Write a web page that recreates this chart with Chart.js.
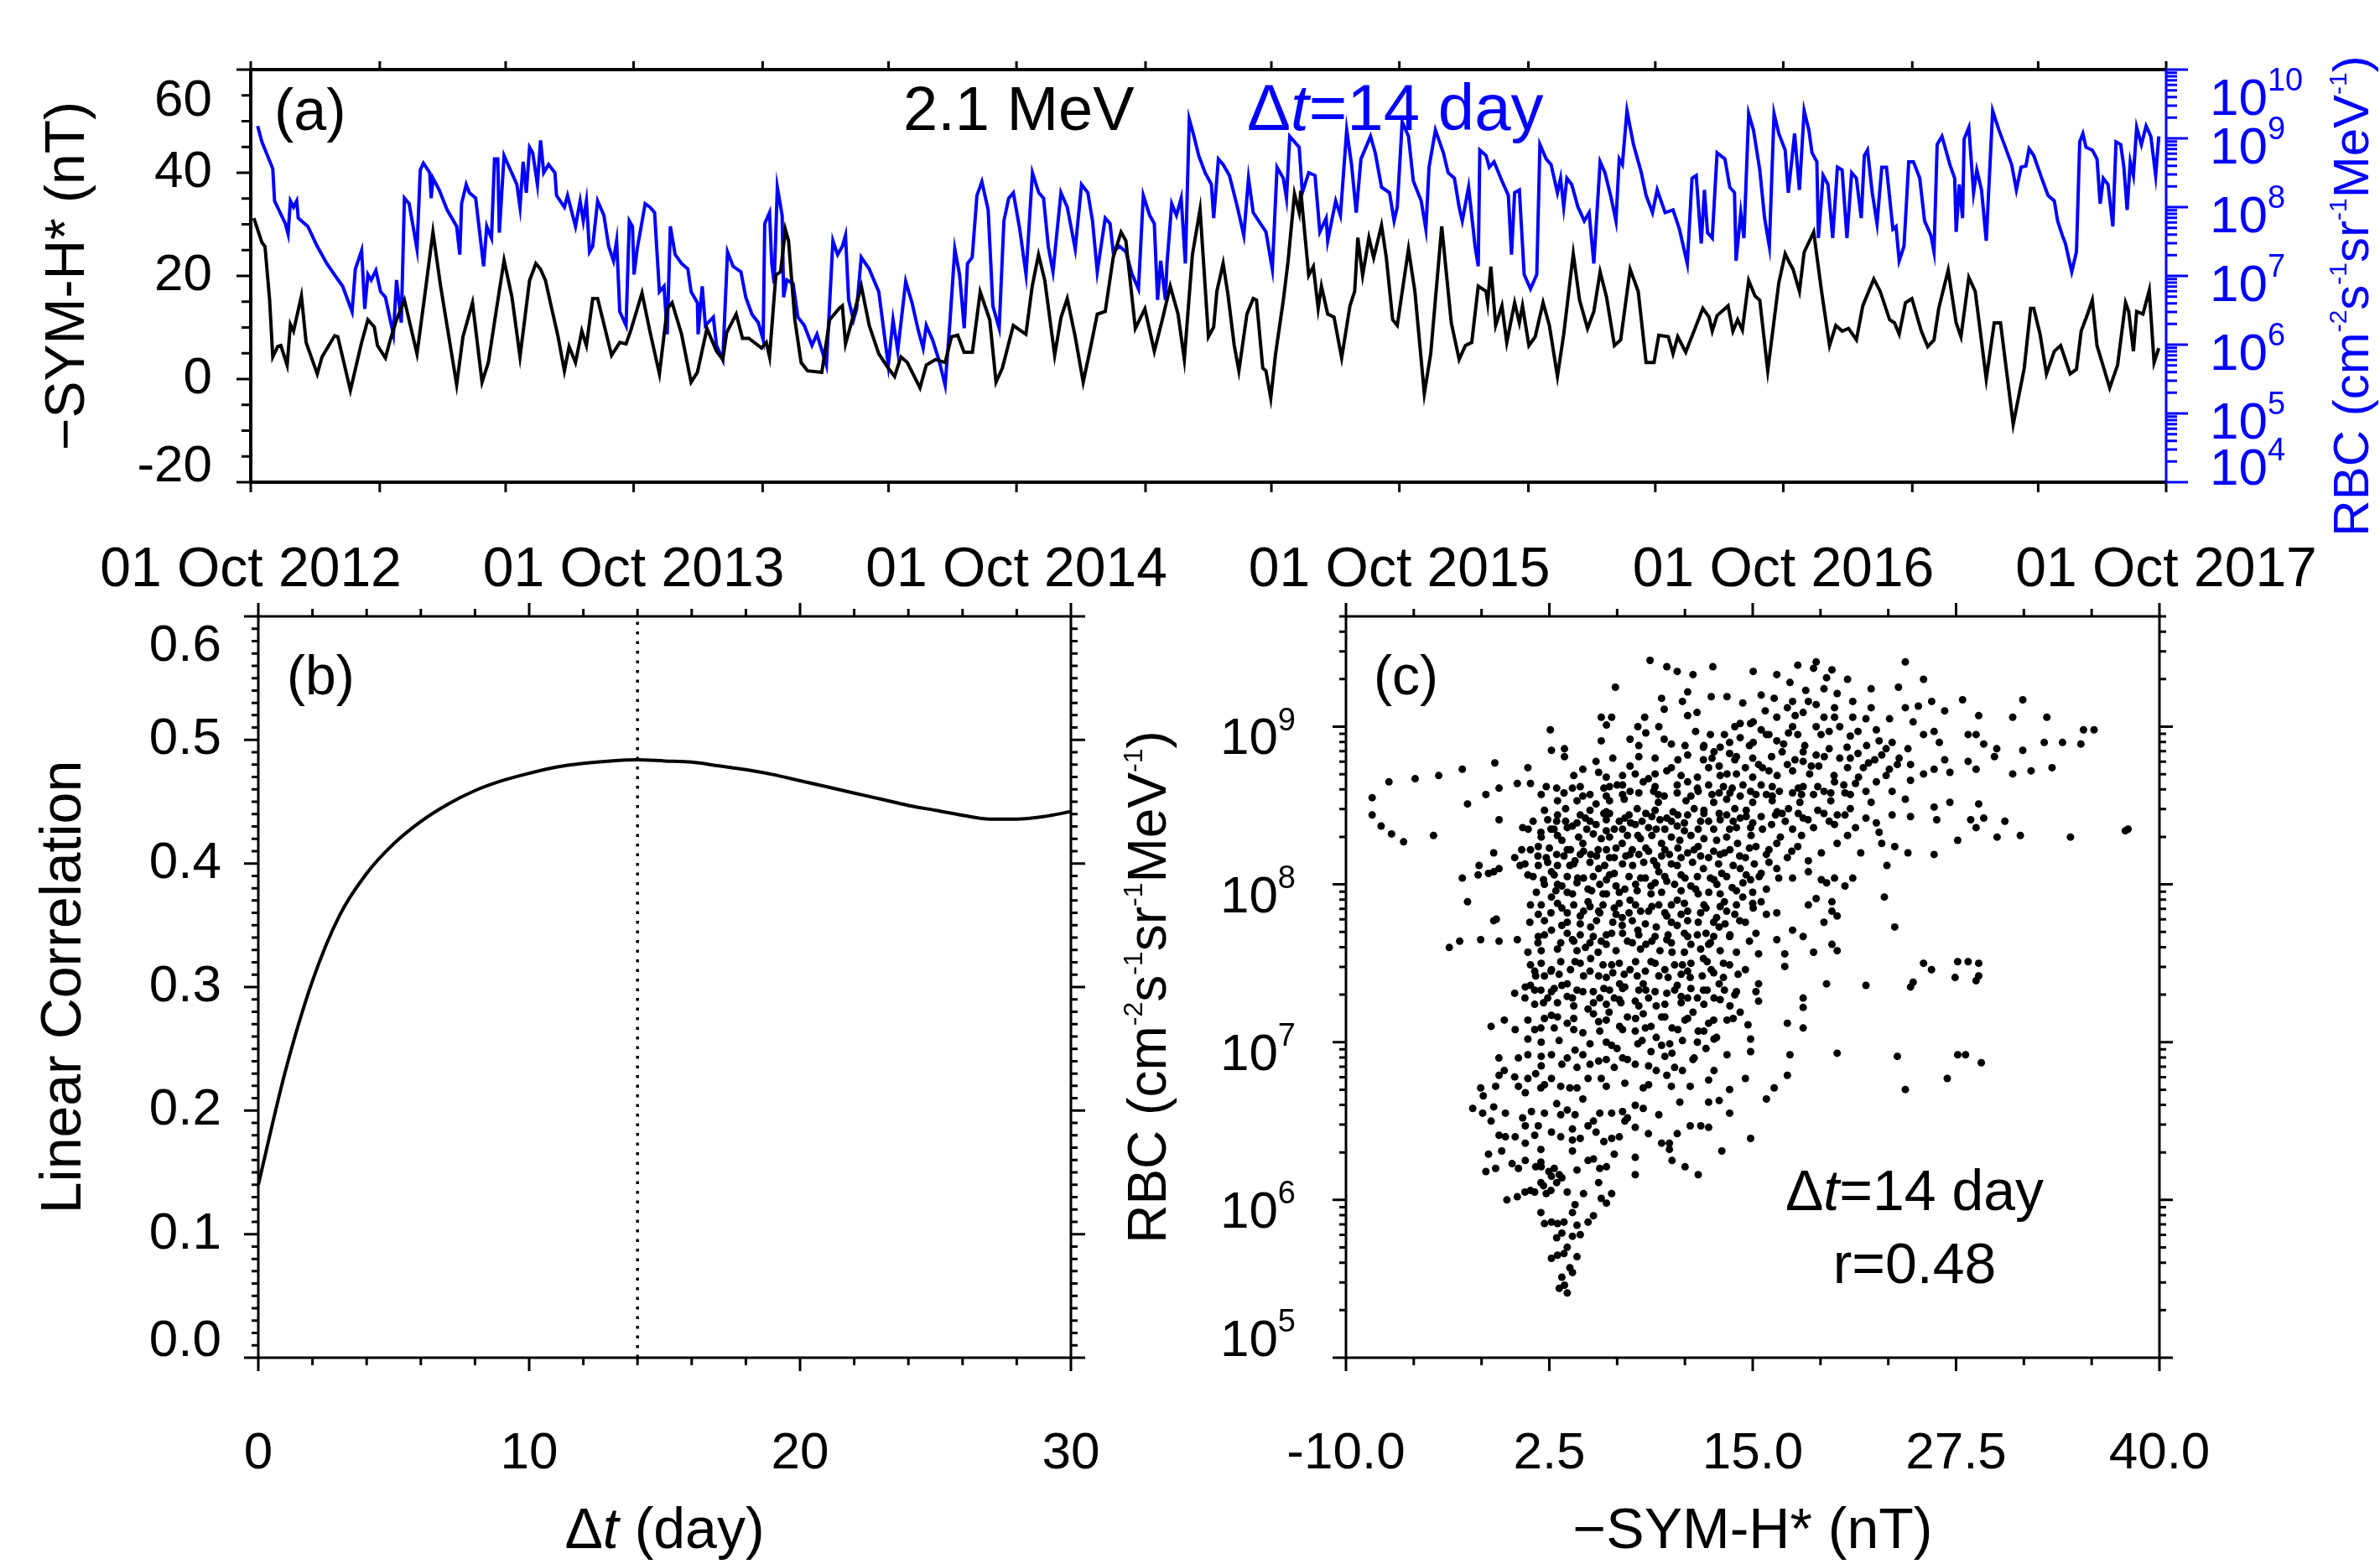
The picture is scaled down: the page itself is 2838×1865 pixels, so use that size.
<!DOCTYPE html>
<html>
<head>
<meta charset="utf-8">
<script src="https://cdn.jsdelivr.net/npm/chart.js@4.4.1/dist/chart.umd.min.js"></script>
<style>
  html, body { margin: 0; padding: 0; background: #fff; }
  #wrap { position: relative; width: 2838px; height: 1865px; overflow: hidden; background: #fff; }
  #wrap canvas { position: absolute; left: 0; top: 0; }
</style>
</head>
<body>
<div id="wrap">
  <canvas id="pa" width="2838" height="1865"></canvas>
  <canvas id="pb" width="2838" height="1865"></canvas>
  <canvas id="pc" width="2838" height="1865"></canvas>
</div>
<script>
const W = 2838, H = 1865;
const FAM = '"Liberation Sans", Arial, Helvetica, sans-serif';
const BLUE = '#0000ff';

// ---- panel (a): days since 01 Oct 2012 ----
// -SYM-H* (nT)
const symh = [
  [3,31.2],[10.6,26.5],[13.6,25.7],[18,15.3],[21,4.3],[25.7,6.3],[28.7,6.5],[34.7,2.7],[37.8,10.6],[40.8,9.3],
  [48.3,16.1],[52.8,7.1],[63.4,1.0],[68,4.3],[80,8.4],[83,8.2],[95,-2.2],[105.7,7.1],[111.7,11.5],[117.8,10.1],
  [120.8,6.5],[128.4,4.1],[133,7.6],[139,11.5],[146.5,15.3],[158.5,4.9],[166,16.4],[173.7,28.5],[181,18],[196.3,-1.1],
  [202.3,8.2],[211.4,14.8],[220.5,-0.6],[226.5,3.2],[234,13.2],[241.5,23.0],[249,15.9],[256.7,4.3],[265.8,19.1],[271.8,22.4],
  [276.3,21.3],[281,19.1],[287,13.6],[293,8.2],[299,1.6],[303.5,6.3],[309.6,3.2],[315.6,9.3],[320,6.5],[326,15.6],
  [330.7,15.6],[344,4.6],[351.8,7.1],[357.8,6.8],[362.4,9.5],[373,16.7],[380.5,9.3],[389.6,1.0],[397,13.6],[401.7,14.8],
  [410.7,8.7],[419.8,-0.6],[425.8,1.3],[434.9,9.8],[444,5.4],[450,3.8],
  [453.7,9.0],[462.8,12.6],[468.8,7.9],[474.9,7.9],[487,6.0],[491.5,7.1],[494.6,4.3],[500.6,20.2],[505.1,20.8],[509.7,29.0],
  [512.7,26.8],[518.7,11.5],[524.7,3.2],[530.8,1.6],[544.4,1.3],[551.9,11.5],[561,13.7],[564,14.2],[567,6.8],[571.5,10.1],
  [582.1,18.0],[589.6,10.4],[598.7,4.9],[607.8,2.1],[613.8,0.5],[619.8,4.3],[625.9,3.2],[638,-1.7],[644,2.7],[653,3.8],
  [662,3.2],[668,8.2],[674,8.5],[680,5.2],[688,5.2],[695.4,16.9],[704.5,11.5],[710.5,-0.6],[716.5,2.1],[727,10.4],
  [734.6,9.3],[739,8.7],[745,18.0],[751,24.1],[757,19.1],[766.4,4.6],[772.4,11.9],[778.4,15.6],[786,8.2],[793.6,-0.6],
  [801,6.5],[807,12.6],[814.6,13.1],[822.2,23.6],[829.7,28.5],[834.3,26.8],[843.3,9.8],[852.4,13.6],[861.4,5.4],[869,11.5],
  [876.6,18.0],[884,12.6],[890,3.8],[897.7,24.1],[905,32.9],[913,8.2],
  [918,10.1],[921,17.0],[927,22.4],[931.6,16.4],[937.6,6.5],[942,1.6],[949.7,12.6],[955.7,15.6],[958.8,15.3],[964.8,2.1],
  [967.8,1.6],[972.4,-3.7],[977,4.9],[984.4,15.3],[989,23.0],[995,35.9],[999.5,32.3],[1001,36.5],[1008.6,20.1],[1013,21.8],
  [1017.6,13.7],[1020.7,18.0],[1026.7,12.6],[1032.7,12.0],[1040,4.1],[1047.9,14.2],[1052.4,17.0],[1055.4,27.4],[1060,20.1],[1066,27.4],
  [1070.5,23.5],[1078,29.8],[1082.6,23.5],[1088.6,11.5],[1093,10.4],[1103.7,25.2],[1109.8,17.0],[1118.8,-2.8],[1124.9,4.9],[1135.4,29.6],
  [1144.5,10.9],[1152,3.8],[1158,6.5],[1164,7.1],[1170.2,18.0],[1177.7,17.0],[1179.2,14.8],[1182.2,21.8],[1186.8,10.4],[1192.8,14.2],
  [1197.4,7.1],[1204.9,14.8],[1209.4,10.9],[1212.4,14.2],[1218.5,6.5],[1224.5,8.2],[1232,14.8],[1238,10.4],[1245.7,0.5],[1251.7,8.7],
  [1260.8,24.3],[1266.8,15.3],[1274.4,9.8],[1280.4,13.1],[1286.4,20.8],[1292.5,15.9],[1300,6.5],[1306,7.6],[1315,21.3],[1322.7,17.0],
  [1330.2,3.2],[1337.8,3.2],[1342.3,8.5],[1351.4,8.2],[1355.9,4.9],[1360.4,8.2],[1368,5.2],[1378,10.4],
  [1384.3,13.7],[1390.3,12.0],[1393.3,9.3],[1397.9,12.3],[1408.4,14.2],[1413,9.3],[1417.5,11.5],[1422,9.5],[1428,19.1],[1434.1,16.1],
  [1438.6,15.3],[1446.2,1.6],[1456.7,18.6],[1462.8,24.3],[1467.3,22.4],[1470.3,21.3],[1476.4,17.0],[1480.9,24.6],[1490,28.5],[1497.5,17.0],
  [1505.1,6.5],[1511.1,10.4],[1517.1,9.3],[1523.2,9.8],[1530.7,7.6],[1536.8,14.2],[1547.3,19.4],[1553.4,17.0],[1562.4,11.5],[1567,10.9],
  [1571.5,8.7],[1577.5,14.8],[1583.6,15.6],[1592.6,9.3],[1598.7,6.3],[1604.7,7.6],[1609.2,13.7],[1618.2,21.1],[1625.8,10.9],[1630.4,8.2],
  [1637.9,19.7],[1644,17.0],[1654.5,0],[1662.1,10.9],[1668.1,10.9],[1680.2,-8.8],[1690.7,2.1],[1696.8,13.7],[1699.8,13.7],[1705.8,8.7],
  [1711.9,1.0],[1719.4,5.4],[1725.4,6.5],[1734.5,1.0],[1740.5,1.9],[1745,9.3],[1751.1,12.6],[1755.6,15.3],[1760.1,6.5],[1772.2,-1.7],
  [1779.7,2.7],[1787.3,14.8],[1790.3,13.1],[1794.8,5.4],[1797.9,13.1],[1803.9,12.6],[1809.9,17.2],[1814.5,3.2],[1819,6.0]
];

// log10 RBC (cm^-2 s^-1 sr^-1 MeV^-1), shifted by 14 days
const rbcLog = [
  [6.6,9.18],[10.6,8.95],[21,8.56],[22.7,8.09],[33,7.76],[35.6,7.61],[37.8,8.09],[40.8,8.0],[43.8,8.09],[45.3,7.84],
  [54.4,7.72],[63.4,7.43],[72.5,7.18],[81.5,6.98],[87.6,6.85],[96.6,6.48],[99.7,7.10],[105.7,7.37],[108.7,6.52],[111.7,7.02],
  [114.8,6.94],[119.3,7.08],[123.8,6.77],[128.4,6.69],[133,6.36],[136,6.15],[139,6.94],[143.5,6.32],[146.5,8.13],[151,8.05],
  [158.5,7.39],[161.6,8.54],[164.6,8.64],[170.6,8.50],[172,8.13],[173.7,8.42],[179.7,8.25],[187.2,7.96],[196.3,7.72],[199.3,7.31],
  [201,8.05],[205.4,8.33],[208.4,8.21],[214.4,8.13],[222,7.14],[225,7.72],[229.5,7.55],[232.4,8.70],[235.5,8.70],[237,7.63],
  [241.5,8.75],[247.6,8.54],[253.7,8.33],[256.7,8.0],[259.7,8.66],[262.7,8.21],[265.8,8.87],[268.8,8.79],[273.3,8.33],[276.3,8.97],
  [279.3,8.50],[283.9,8.62],[290,8.50],[291.5,8.17],[299,8.0],[302,8.17],[309.6,7.72],[314,8.09],[317,7.80],[320,8.09],
  [323,7.35],[326,7.43],[330.7,8.09],[336.7,7.88],[341.2,7.43],[345.8,7.22],[348.8,7.51],[351.8,6.48],[357.8,6.28],[360.9,7.80],
  [363.9,7.72],[365.4,7.02],[368.4,7.39],[376,8.05],[380.5,8.0],[385,7.92],[389.6,6.77],[394,6.85],[397,6.15],[400,7.72],
  [404.6,7.31],[410.7,7.18],[416.7,7.10],[419.8,6.77],[425.8,6.61],[426.5,6.15],[430.4,6.85],[433.4,6.28],[441,6.40],[444,5.99],
  [450,5.78],[454.5,7.35],
  [459.8,7.14],[467.3,7.06],[471.9,6.69],[477.9,6.44],[483.9,6.32],[488.5,6.07],[490,7.76],[494.6,7.92],[496.7,7.18],[499,6.89],
  [502,8.29],[506.6,7.88],[508,6.69],[511,6.94],[517,6.89],[521.6,6.40],[527.7,6.28],[535,5.99],[539.8,6.15],[548.8,5.70],
  [555,7.51],[559.5,7.31],[564,7.43],[567,7.59],[570,6.65],[574.6,6.36],[577.6,6.52],[582,7.27],[589.6,7.10],[598.7,6.77],
  [607.8,5.70],[612.3,6.36],[616.8,5.91],[624.4,6.92],[630.4,6.61],[636.5,6.20],[641,5.95],[644,6.28],[650,6.07],[656,5.78],
  [662,5.41],[666.7,6.36],[671.2,7.39],[675.7,7.02],[680.2,6.24],[683.3,7.18],[687.8,7.27],[692.3,8.17],[697,8.37],[703,7.96],
  [707.5,6.56],[713.5,6.24],[718,7.80],[722.6,8.13],[727,8.21],[733.1,7.68],[739.1,7.02],[745.2,8.50],[751.2,8.21],[755.8,8.13],
  [760.3,7.43],[764.8,7.06],[772.4,8.21],[778.4,8.0],[786,7.39],[792,8.33],[798,8.21],[802.5,7.80],[807,7.06],[814.6,7.84],
  [819.2,7.76],[822.2,7.35],[828.2,7.43],[834.3,7.35],[840.3,7.02],[846.3,6.81],[850.9,8.17],[857,7.88],[861.4,7.76],[864.5,6.65],
  [867.5,7.22],[872,6.65],[873.5,7.18],[878,8.05],[882.5,7.88],[887,8.13],[891,7.18],[894.7,9.28],[899.2,9.03],[903.7,8.75],
  [909.8,8.50],[915.8,8.33],
  [918,7.84],[922.5,8.70],[927,8.62],[933,8.46],[940.6,8.0],[946.7,7.59],[951.2,8.42],[955.7,7.92],[967.8,7.64],[973.9,7.10],
  [978.4,8.58],[984.4,8.42],[987.4,8.13],[990.5,9.03],[999.5,8.87],[1002.5,8.21],[1008.6,8.50],[1014.6,8.46],[1019.2,7.64],[1025.2,7.84],
  [1026.7,7.51],[1034.3,8.09],[1038.8,7.88],[1044.8,9.12],[1049.4,8.62],[1053.9,7.92],[1058.4,8.70],[1067.5,9.03],[1072,8.79],[1078,8.29],
  [1085.6,8.21],[1090,7.80],[1093,8.0],[1097.7,9.24],[1103.7,9.03],[1108.3,8.38],[1115.8,8.09],[1120.3,7.68],[1123.3,8.58],[1129.4,9.12],
  [1137,8.79],[1141.5,8.50],[1147.5,8.42],[1152,8.0],[1155,7.80],[1161,8.29],[1167.2,7.43],[1170.2,7.14],[1171.7,8.83],[1177.7,8.75],
  [1180.7,8.58],[1185.3,8.66],[1192.8,8.38],[1198.9,8.17],[1201.9,7.31],[1204.9,8.21],[1209.4,8.25],[1214,7.02],[1220,6.81],[1226,7.02],
  [1229,8.91],[1235,8.70],[1239.6,8.62],[1245.7,8.21],[1248.7,8.42],[1251.7,8.0],[1254.7,8.42],[1259.3,8.33],[1265.3,8.0],[1271.3,7.80],
  [1275.9,7.92],[1280.4,7.18],[1286.4,8.66],[1291,8.50],[1297,8.13],[1301.5,7.80],[1304.6,8.70],[1307.6,8.62],[1312,9.40],[1318.2,8.91],
  [1325.7,8.50],[1330.2,8.17],[1336.3,7.92],[1340.8,8.25],[1348.4,7.92],[1355.9,7.96],[1362,7.68],[1369.5,7.18],[1374,8.42],[1378,8.46],
  [1382.8,7.47],[1385.8,8.25],[1388.8,7.63],[1393.3,7.55],[1397.9,8.79],[1405.4,8.70],[1410,8.29],[1414.5,8.21],[1416,7.22],[1420.5,7.92],
  [1423.5,7.55],[1428,9.36],[1432.6,9.12],[1438.6,8.54],[1443.2,7.84],[1447.7,7.43],[1452.2,9.36],[1456.7,9.07],[1462.8,8.83],[1465.8,8.21],
  [1471.8,9.07],[1476.4,8.25],[1480.9,9.40],[1485.4,9.12],[1488.4,8.79],[1493,8.66],[1494.5,7.55],[1499,8.46],[1503.6,8.33],[1508.1,7.55],
  [1512.6,8.58],[1517.1,8.54],[1521.7,7.55],[1526.2,8.50],[1530.7,8.42],[1535.3,7.84],[1538.3,8.75],[1541.3,8.83],[1545.8,8.21],[1550.4,7.76],
  [1554.9,8.58],[1559.4,8.58],[1565.5,7.68],[1568.5,7.72],[1571.5,7.22],[1576.1,7.43],[1580.6,8.66],[1585.1,8.66],[1591.1,8.42],[1595.7,7.80],
  [1601.7,7.59],[1604.7,7.35],[1607.7,8.91],[1612.3,9.03],[1619.8,8.62],[1624.4,8.42],[1625.8,7.64],[1628.8,8.33],[1631.9,7.84],[1633.4,8.99],
  [1637.9,9.16],[1642.4,8.21],[1645.5,8.54],[1650,8.25],[1654.5,7.51],[1660.6,9.40],[1666.6,9.12],[1672.7,8.87],[1678.7,8.62],[1683.2,8.25],
  [1687.7,8.58],[1692.3,8.60],[1695.3,8.85],[1699.8,8.75],[1707.4,8.42],[1713.4,8.17],[1719.4,8.09],[1722.5,7.80],[1727,7.59],[1730,7.47],
  [1736,7.06],[1740.5,7.35],[1743.6,8.95],[1746.6,9.07],[1749.6,8.87],[1755.6,8.83],[1760.1,8.70],[1763.1,8.05],[1766.1,8.42],[1770.6,8.33],
  [1775.2,7.72],[1778.2,8.95],[1782.7,8.91],[1785.7,8.58],[1788.8,7.96],[1791.8,8.66],[1794.8,8.46],[1797.9,9.16],[1802.4,8.91],[1806.9,9.18],
  [1811.4,9.03],[1816,8.46],[1819,9.03]
];

const dateTickYears = [2012, 2013, 2014, 2015, 2016, 2017];
const symhTicks = [-20, 0, 20, 40, 60];
const rbcDecadesA = [4, 5, 6, 7, 8, 9, 10];

// ---- panel (b) ----
const lagDays = [0,1,2,3,4,5,6,7,8,9,10,11,12,13,14,15,16,17,18,19,20,21,22,23,24,25,26,27,28,29,30];
const linCorr = [0.140,0.232,0.305,0.358,0.392,0.416,0.434,0.448,0.459,0.467,0.473,0.478,0.481,0.483,0.484,0.483,
                 0.482,0.479,0.476,0.472,0.467,0.462,0.457,0.452,0.447,0.443,0.439,0.436,0.436,0.438,0.442];
const bestLag = 14;
const corrTicks = [0, 0.1, 0.2, 0.3, 0.4, 0.5, 0.6];
const lagTicks = [0, 10, 20, 30];

// ---- panel (c): [-SYM-H* (nT), log10 RBC] ----
const scatterPts = [
  [8.69,9.42],[9.72,9.38],[10.36,9.35],[11.33,9.33],[12.55,9.38],[15.03,9.35],[16.48,9.33],[17.77,9.39],[18.9,9.41],[18.74,9.37],
  [19.87,9.36],[19.54,9.31],[20.83,9.30],[24.38,9.41],[25.5,9.30],[6.56,9.25],[17.29,9.28],[18.26,9.23],[19.38,9.24],[20.19,9.21],
  [22.28,9.24],[23.96,9.25],[11.0,9.22],
  [9.4,9.18],[10.68,9.16],[11.0,9.07],[12.45,9.19],[13.42,9.19],[14.39,9.15],[15.52,9.20],[16.32,9.18],[17.45,9.16],[17.13,9.12],
  [18.42,9.16],[18.9,9.14],[18.1,9.09],[20.03,9.12],[21.15,9.16],[22.28,9.12],[24.38,9.12],[25.18,9.13],[26.0,9.16],[26.8,9.10],
  [27.9,9.17],[31.6,9.17],[5.69,9.06],[6.33,9.06],[8.36,9.06],[9.56,9.11],[11.58,9.09],[14.23,9.02],[15.03,9.03],[15.77,9.10],
  [16.48,9.06],[17.61,9.07],[19.38,9.06],[20.03,9.06],[21.15,9.06],[21.96,9.05],[23.41,9.05],[24.86,9.03],[28.89,9.07],[30.98,9.06],[33.08,9.06],
  [2.56,8.98],[6.01,9.01],[7.94,9.0],[9.23,9.0],[8.43,8.96],[9.56,8.92],[11.49,8.97],[13.26,8.95],[13.9,9.0],[14.87,9.02],
  [15.52,8.98],[15.84,8.95],[13.58,8.90],[14.23,8.93],[15.03,8.90],[16.48,8.91],[17.45,9.0],[17.77,8.95],[18.9,9.0],[19.7,8.97],
  [20.35,9.0],[21.47,8.97],[22.6,8.98],[22.77,8.91],[23.57,8.90],[24.54,8.86],[25.5,8.95],[26.15,8.97],[26.47,8.90],[28.24,8.95],
  [28.73,8.95],[29.2,8.89],[30.0,8.86],[31.6,8.85],[32.92,8.90],[34.04,8.90],[35.17,8.89],[35.33,8.98],[35.98,8.98],[5.69,8.91],
  [7.46,8.92],[2.63,8.85],[3.43,8.86],[10.84,8.88],[11.97,8.87],[12.62,8.84],
  [-2.85,8.73],[-4.3,8.69],[-5.75,8.67],[-7.36,8.65],[-0.85,8.77],[1.18,8.74],[3.43,8.81],[4.56,8.73],[5.37,8.78],[5.53,8.71],
  [7.46,8.75],[7.78,8.70],[8.59,8.67],[9.72,8.72],[11.0,8.82],[11.97,8.79],[12.29,8.74],[12.94,8.75],[13.58,8.83],[13.9,8.79],
  [14.55,8.74],[13.42,8.70],[15.36,8.76],[16.0,8.72],[16.16,8.81],[16.81,8.84],[17.13,8.76],[17.45,8.72],[18.1,8.78],[18.1,8.84],
  [18.9,8.82],[19.06,8.75],[19.7,8.86],[20.35,8.80],[20.83,8.74],[21.47,8.83],[22.12,8.77],[22.93,8.82],[23.89,8.76],[24.7,8.76],
  [24.7,8.66],[25.5,8.70],[26.15,8.73],[26.8,8.79],[27.12,8.71],[28.24,8.78],[28.73,8.73],[29.86,8.81],[30.98,8.70],[32.11,8.72],[33.4,8.74],
  [-8.39,8.55],[-0.59,8.61],[0.53,8.64],[1.34,8.64],[2.31,8.62],[2.95,8.61],[3.92,8.61],[-1.4,8.57],[-2.53,8.51],[4.56,8.56],
  [5.37,8.51],[5.85,8.61],[6.66,8.63],[7.46,8.59],[8.27,8.65],[8.91,8.59],[9.56,8.56],[10.36,8.63],[10.36,8.58],[11.0,8.65],
  [11.65,8.59],[12.29,8.63],[12.94,8.58],[13.74,8.61],[14.23,8.56],[14.87,8.59],[15.52,8.63],[15.84,8.57],[16.64,8.59],[17.45,8.58],
  [18.1,8.62],[18.74,8.57],[19.38,8.59],[20.03,8.65],[20.67,8.58],[21.32,8.64],[21.96,8.59],[22.28,8.52],[23.57,8.59],[24.38,8.54],
  [22.6,8.65],[26.15,8.49],[27.12,8.52],[28.89,8.51],
  [-8.39,8.44],[-7.84,8.37],[-7.2,8.32],[-6.46,8.27],[-4.62,8.31],[-0.59,8.41],[0.86,8.36],[1.98,8.33],[2.79,8.35],[2.95,8.40],
  [3.92,8.37],[4.72,8.42],[5.37,8.38],[5.85,8.45],[6.49,8.35],[7.14,8.42],[7.78,8.38],[8.43,8.45],[9.07,8.35],[9.72,8.42],
  [10.36,8.37],[11.0,8.44],[11.65,8.35],[12.29,8.40],[12.94,8.45],[13.58,8.35],[14.23,8.42],[14.87,8.36],[15.52,8.43],[16.16,8.38],
  [16.81,8.45],[17.45,8.35],[18.1,8.42],[18.74,8.36],[19.38,8.45],[20.03,8.38],[20.67,8.44],[21.32,8.36],[21.96,8.42],[22.6,8.39],
  [23.57,8.44],[22.77,8.33],[24.7,8.43],[26.31,8.41],[28.4,8.41],[29.2,8.42],[28.73,8.36],[30.5,8.40],[27.6,8.28],[30.02,8.30],
  [31.45,8.31],[34.53,8.30],[37.9,8.34],[38.07,8.35],
  [-2.85,8.04],[-1.82,8.12],[-0.92,8.20],[-0.92,8.08],[0.37,8.17],[1.34,8.22],[1.82,8.24],[2.31,8.17],[2.95,8.19],[3.27,8.28],
  [3.6,8.22],[4.08,8.15],[4.56,8.26],[5.04,8.19],[5.69,8.29],[6.01,8.22],[6.49,8.17],[6.98,8.26],[7.46,8.19],[7.94,8.31],
  [8.43,8.23],[8.91,8.15],[9.4,8.26],[9.88,8.19],[10.52,8.28],[11.0,8.20],[11.65,8.24],[12.29,8.17],[12.78,8.28],[13.26,8.20],
  [14.07,8.26],[14.55,8.17],[15.2,8.24],[15.84,8.19],[16.48,8.26],[17.13,8.17],[17.77,8.24],[18.42,8.15],[19.22,8.20],[20.19,8.26],
  [20.83,8.31],[21.64,8.20],[22.93,8.26],[23.73,8.24],[24.54,8.20],[26.15,8.19],[23.25,8.12],
  [-1.88,8.06],[-1.24,8.07],[-0.59,8.10],[0.7,8.12],[1.18,8.06],[1.82,8.12],[2.14,8.03],[2.63,8.08],[3.27,7.99],[3.76,8.12],
  [4.24,8.04],[4.88,7.97],[5.53,8.10],[6.01,8.03],[6.49,8.07],[7.14,7.97],[7.62,8.12],[8.11,8.04],[8.75,7.99],[9.23,8.08],
  [9.72,8.02],[10.36,8.12],[10.84,8.04],[11.49,7.97],[11.97,8.10],[12.62,8.03],[13.1,8.07],[13.74,7.98],[14.23,8.10],[14.87,8.03],
  [15.52,8.07],[15.84,7.97],[16.48,8.10],[17.45,8.04],[18.42,8.08],[19.54,8.01],[20.03,8.04],[20.67,7.99],[21.15,8.04],[19.22,8.03],[23.09,7.92],
  [-2.53,7.89],[-0.76,7.78],[1.34,7.87],[1.82,7.81],[2.63,7.92],[3.27,7.85],[3.92,7.94],[4.4,7.80],[4.88,7.89],[5.53,7.83],
  [6.01,7.94],[6.49,7.85],[6.98,7.79],[7.46,7.90],[8.11,7.83],[8.75,7.94],[9.23,7.87],[9.72,7.80],[10.36,7.90],[11.0,7.83],
  [11.65,7.94],[12.13,7.85],[12.78,7.79],[13.26,7.89],[13.9,7.81],[14.39,7.92],[15.03,7.85],[15.52,7.89],[15.84,7.81],[16.48,7.82],
  [18.42,7.87],[18.9,7.91],[19.87,7.89],[19.87,7.83],[20.19,7.80],
  [-3.65,7.60],[-3.01,7.64],[-1.72,7.65],[-0.92,7.77],[-0.59,7.64],[0.53,7.65],[1.82,7.67],[2.63,7.71],[3.27,7.74],[3.92,7.65],
  [4.72,7.60],[5.04,7.73],[5.69,7.64],[6.33,7.69],[6.98,7.74],[7.3,7.64],[7.94,7.71],[8.43,7.62],[9.07,7.73],[9.72,7.65],
  [10.36,7.74],[11.0,7.67],[11.65,7.76],[12.13,7.69],[12.29,7.62],[12.94,7.73],[13.58,7.67],[14.55,7.76],[15.2,7.69],[16.48,7.65],
  [17.45,7.71],[18.1,7.67],[18.74,7.57],[19.38,7.76],[19.87,7.62],[20.19,7.58],[23.73,7.73],
  [1.18,7.57],[1.34,7.49],[1.66,7.42],[1.02,7.35],[2.63,7.46],[3.6,7.37],[4.08,7.51],[5.04,7.53],[5.53,7.42],[6.33,7.49],
  [6.82,7.37],[7.46,7.46],[8.27,7.37],[8.75,7.51],[9.23,7.42],[10.04,7.57],[10.68,7.49],[11.16,7.41],[11.97,7.53],[12.45,7.46],
  [12.94,7.37],[13.58,7.49],[14.55,7.46],[15.36,7.56],[15.36,7.37],[16.97,7.56],[16.97,7.48],[25.5,7.50],[25.99,7.46],[27.6,7.51],
  [28.24,7.51],[28.89,7.50],[28.89,7.42],[27.44,7.41],[28.73,7.39],[19.54,7.37],[21.96,7.36],[24.86,7.38],
  [0.37,7.31],[1.34,7.36],[1.98,7.33],[2.63,7.32],[3.27,7.36],[3.92,7.28],[4.56,7.32],[5.21,7.25],[5.85,7.34],[6.49,7.28],
  [7.14,7.35],[7.78,7.26],[8.43,7.33],[9.07,7.23],[9.72,7.31],[10.36,7.36],[11.0,7.28],[11.97,7.33],[12.62,7.28],[13.26,7.33],
  [13.9,7.30],[15.2,7.32],[15.36,7.26],[18.1,7.28],[18.1,7.22],[24.7,7.35],[2.14,7.25],[4.88,7.21],
  [-1.08,7.10],[-0.27,7.14],[1.18,7.14],[1.18,7.02],[1.98,7.09],[3.6,7.12],[4.56,7.06],[5.21,7.18],[5.53,7.13],[6.17,7.19],
  [6.82,7.10],[7.3,7.16],[7.78,7.07],[8.27,7.18],[8.75,7.10],[9.07,7.03],[9.4,7.16],[10.04,7.09],[10.84,7.14],[11.33,7.19],
  [11.65,7.07],[12.29,7.12],[12.78,7.03],[13.42,7.14],[14.23,7.19],[14.71,7.11],[17.13,7.12],[18.1,7.09],[2.63,7.17],
  [1.18,6.92],[2.63,6.92],[3.27,6.86],[4.08,6.95],[4.56,6.92],[5.53,6.88],[6.66,6.96],[7.3,6.89],[7.94,6.99],[8.75,6.94],
  [9.4,6.98],[10.04,6.93],[10.68,7.01],[11.33,6.89],[12.13,6.96],[12.62,7.02],[13.42,6.92],[14.87,7.02],[14.87,6.94],[17.29,6.92],
  [20.19,6.93],[23.89,6.91],[27.6,6.92],[28.08,6.92],[29.05,6.87],[6.33,6.98],
  [-1.72,6.71],[-0.59,6.79],[-0.27,6.82],[0.37,6.78],[1.18,6.77],[1.66,6.80],[2.63,6.77],[3.76,6.71],[4.88,6.77],[5.69,6.77],
  [6.49,6.84],[7.14,6.74],[7.78,6.86],[8.27,6.71],[9.07,6.82],[9.72,6.79],[10.68,6.82],[11.16,6.72],[12.29,6.76],[12.62,6.82],
  [13.58,6.70],[14.55,6.77],[16.32,6.71],[17.13,6.79],[24.38,6.70],[26.96,6.77],[1.98,6.71],
  [-2.21,6.58],[-1.56,6.66],[-0.92,6.59],[1.02,6.68],[2.95,6.61],[3.6,6.57],[4.08,6.54],[4.56,6.64],[5.21,6.50],[6.33,6.55],
  [7.3,6.52],[7.78,6.60],[8.27,6.58],[9.23,6.54],[10.52,6.62],[12.29,6.62],[12.94,6.63],[13.58,6.55],[15.84,6.64],
  [-1.08,6.50],[-0.59,6.41],[0.86,6.52],[1.02,6.47],[1.82,6.47],[2.63,6.43],[3.92,6.45],[4.88,6.47],[5.37,6.43],[5.85,6.37],
  [6.33,6.39],[7.14,6.50],[7.78,6.46],[8.59,6.42],[9.4,6.36],[9.88,6.36],[10.36,6.42],[11.16,6.47],[11.81,6.47],[12.29,6.46],
  [14.87,6.39],[1.02,6.36],[1.98,6.32],[3.92,6.38],
  [-1.24,6.29],[-1.4,6.18],[-0.43,6.31],[0.21,6.23],[1.02,6.25],[1.66,6.21],[2.47,6.18],[3.11,6.16],[3.92,6.31],[4.88,6.25],
  [5.21,6.26],[6.01,6.21],[6.49,6.29],[7.78,6.27],[7.78,6.16],[9.88,6.32],[10.04,6.25],[10.84,6.21],[11.65,6.16],[13.1,6.31],[1.98,6.24],
  [-0.11,6.00],[0.53,6.02],[1.34,6.06],[1.98,6.11],[2.31,6.04],[2.63,6.15],[2.95,6.11],[3.27,6.14],[2.14,6.09],[5.53,6.11],
  [5.69,6.01],[6.33,6.04],[6.01,5.98],
  [1.98,5.92],[2.63,5.86],[3.92,5.92],[4.88,5.86],[4.08,5.97],[3.27,5.79],[2.95,5.76],[3.92,5.77],[4.4,5.78],[3.6,5.70],
  [2.63,5.63],[5.21,5.90],[3.76,5.57],[3.92,5.54],[3.27,5.51],[3.43,5.46],[3.6,5.41],[3.11,5.44],
  [3.0,8.53],[4.2,8.53],[6.2,8.53],[7.1,8.54],[9.2,8.52],[10.9,8.53],[12.6,8.52],[13.4,8.54],[15.0,8.52],[16.2,8.53],[17.9,8.52],[19.8,8.53],
  [2.2,8.47],[3.5,8.48],[5.0,8.47],[6.0,8.46],[7.9,8.48],[9.0,8.47],[10.1,8.46],[11.4,8.48],[12.0,8.47],[13.9,8.48],[14.6,8.47],[16.5,8.46],
  [17.2,8.48],[19.0,8.47],[21.0,8.48],
  [2.0,8.30],[3.0,8.31],[4.3,8.30],[5.2,8.32],[6.2,8.30],[7.3,8.31],[8.1,8.29],[8.8,8.31],[10.0,8.30],[11.2,8.31],[12.0,8.29],[13.4,8.30],
  [14.9,8.31],[16.7,8.30],[18.0,8.31],
  [1.0,8.13],[2.4,8.14],[3.0,8.12],[4.0,8.13],[5.0,8.14],[5.9,8.12],[7.0,8.13],[8.3,8.14],[9.1,8.12],[10.0,8.13],[11.3,8.14],[12.9,8.13],
  [13.8,8.12],[15.1,8.13],[16.0,8.14],
  [1.7,7.95],[2.9,7.96],[3.6,7.95],[5.1,7.96],[5.8,7.94],[6.8,7.95],[7.9,7.96],[9.4,7.95],[10.6,7.96],[12.3,7.95],[13.0,7.94],[14.0,7.96],[15.0,7.95],
  [1.3,7.76],[2.2,7.77],[3.6,7.76],[4.4,7.75],[5.4,7.77],[6.4,7.76],[7.6,7.77],[8.4,7.75],[10.0,7.76],[11.0,7.77],[12.6,7.76],[13.3,7.75],[14.2,7.77],
  [2.0,7.58],[3.0,7.59],[4.2,7.58],[5.5,7.57],[6.6,7.58],[8.1,7.59],[9.3,7.58],[10.8,7.57],[11.8,7.59],[13.0,7.58],[14.0,7.57],
  [2.2,7.42],[3.1,7.43],[4.6,7.42],[6.0,7.41],[7.1,7.43],[7.9,7.42],[9.8,7.41],[10.6,7.43],[11.9,7.42],[13.2,7.41],[14.1,7.43],
  [1.6,7.24],[3.0,7.25],[4.0,7.23],[6.0,7.24],[6.9,7.25],[8.0,7.23],[9.6,7.24],[10.6,7.25],[12.0,7.24],[13.6,7.23],
  [2.0,7.0],[3.1,7.01],[5.0,6.99],[6.0,7.0],[8.2,7.01],[9.9,6.99],[11.6,7.0],
  [2.0,6.85],[4.2,6.84],[5.0,6.86],[8.6,6.85],[10.2,6.84],
  [8.0,8.88],[10.0,8.89],[12.0,8.88],[13.0,8.87],[14.8,8.88],[16.9,8.89],[18.2,8.88],[20.8,8.87],[22.0,8.88],[23.2,8.86],
  [6.4,8.80],[8.0,8.81],[9.0,8.80],[10.4,8.79],[12.5,8.80],[14.0,8.81],[15.0,8.80],[17.6,8.79],[19.4,8.81],[21.0,8.80],[22.5,8.79],[24.0,8.80],
  [4.0,8.69],[6.0,8.68],[7.0,8.69],[9.0,8.70],[10.6,8.69],[11.6,8.68],[13.0,8.69],[14.0,8.70],[15.0,8.68],[16.5,8.69],[18.5,8.70],[20.0,8.69],
  [21.5,8.68],[23.2,8.69],
  [2.0,8.57],[3.4,8.58],[5.0,8.57],[6.0,8.56],[7.0,8.57],[8.0,8.58],[9.2,8.57],[11.2,8.56],[12.5,8.57],[13.6,8.58],[15.2,8.57],[16.2,8.56],
  [18.0,8.57],[19.8,8.58],[21.0,8.57],
  [1.5,8.40],[2.4,8.41],[3.5,8.40],[4.2,8.39],[5.0,8.40],[6.0,8.41],[6.8,8.40],[7.5,8.39],[8.2,8.40],[9.3,8.41],[10.0,8.40],[10.8,8.39],
  [11.8,8.40],[13.0,8.41],[13.8,8.40],[15.0,8.39],[17.0,8.40],[18.4,8.41],[19.7,8.40],
  [0.8,8.22],[2.5,8.23],[3.8,8.22],[4.6,8.21],[5.5,8.22],[6.6,8.23],[7.6,8.22],[8.6,8.21],[9.6,8.22],[10.4,8.23],[11.4,8.22],[12.6,8.21],
  [13.6,8.22],[14.8,8.23],[16.0,8.22],[17.4,8.21],
  [1.5,8.05],[2.8,8.06],[3.6,8.05],[4.6,8.04],[5.2,8.05],[6.2,8.06],[7.4,8.05],[8.4,8.04],[9.6,8.05],[10.6,8.06],[11.6,8.05],[12.4,8.04],
  [13.4,8.05],[14.6,8.06],[15.4,8.05],[16.6,8.04],
  [2.0,7.87],[3.0,7.88],[4.0,7.87],[5.0,7.86],[5.8,7.87],[6.8,7.88],[7.8,7.87],[8.8,7.86],[10.0,7.87],[10.8,7.88],[12.0,7.87],[13.0,7.86],
  [14.0,7.87],[15.0,7.88],
  [2.2,7.68],[3.6,7.69],[4.4,7.68],[5.2,7.67],[6.0,7.68],[7.0,7.69],[8.0,7.68],[9.0,7.67],[9.8,7.68],[10.8,7.69],[11.6,7.68],[12.6,7.67],[13.6,7.68],
  [2.0,7.50],[3.2,7.51],[4.4,7.50],[5.8,7.49],[6.8,7.50],[7.8,7.51],[9.0,7.50],[10.2,7.49],[11.2,7.50],[12.2,7.51],[13.2,7.50],
  [1.6,7.33],[2.8,7.34],[4.2,7.33],[5.2,7.32],[6.2,7.33],[7.0,7.34],[8.0,7.33],[9.0,7.32],[10.2,7.33],[11.2,7.34],[12.2,7.33],[14.0,7.32],
  [2.2,7.15],[3.0,7.16],[4.0,7.15],[6.0,7.14],[7.8,7.15],[9.6,7.16],[11.0,7.15],[12.6,7.14],[13.8,7.15],
  [4.4,8.62],[6.2,8.62],[7.0,8.63],[9.0,8.62],[11.6,8.61],[13.2,8.62],[14.4,8.63],[16.2,8.62],[17.8,8.61],[19.0,8.62],[20.6,8.63],
  [3.0,8.44],[4.4,8.44],[6.2,8.45],[7.4,8.44],[8.8,8.43],[10.4,8.44],[12.0,8.45],[13.4,8.44],[14.6,8.43],[16.4,8.44],[17.8,8.45],[20.2,8.44],
  [1.2,8.35],[2.6,8.35],[3.6,8.36],[4.8,8.35],[6.0,8.34],[7.0,8.35],[8.6,8.36],[9.6,8.35],[10.8,8.34],[12.6,8.35],[14.0,8.36],[15.6,8.35],
  [1.8,8.18],[3.4,8.18],[4.4,8.19],[5.4,8.18],[6.2,8.17],[7.2,8.18],[8.0,8.19],[9.4,8.18],[10.6,8.17],[11.8,8.18],[13.0,8.19],[14.2,8.18],
  [2.2,8.00],[3.0,8.00],[4.2,8.01],[5.6,8.00],[6.6,7.99],[7.8,8.00],[9.0,8.01],[10.2,8.00],[11.2,7.99],[12.8,8.00],[14.4,8.01],
  [2.6,7.82],[3.6,7.82],[4.6,7.83],[5.6,7.82],[6.6,7.81],[7.4,7.82],[8.6,7.83],[9.6,7.82],[10.6,7.81],[11.8,7.82],[13.4,7.83],
  [1.8,7.63],[3.2,7.63],[4.0,7.64],[5.0,7.63],[6.0,7.62],[7.6,7.63],[8.8,7.64],[10.0,7.63],[11.2,7.62],[12.4,7.63],[14.8,7.64],
  [1.6,7.45],[2.6,7.45],[3.8,7.46],[5.0,7.45],[6.4,7.44],[8.4,7.45],[9.6,7.46],[11.0,7.45],[12.6,7.44],
  [1.0,7.28],[2.4,7.28],[3.6,7.29],[5.6,7.28],[6.8,7.27],[8.6,7.28],[10.6,7.29],[11.6,7.28],[13.0,7.27],
  [0.4,7.08],[1.6,7.08],[2.8,7.09],[4.0,7.08],[5.6,7.07],[7.0,7.08],[8.4,7.09],[10.4,7.08],[12.0,7.07],
  [-0.6,6.90],[0.6,6.90],[2.0,6.91],[3.6,6.90],[6.0,6.89],[7.0,6.90],[9.6,6.91],[11.4,6.90],
  [-0.8,6.72],[0.6,6.72],[2.2,6.73],[3.2,6.72],[4.2,6.71],[6.0,6.72],[8.6,6.73],[10.0,6.72],
  [-1.6,6.55],[-0.2,6.55],[1.4,6.56],[2.2,6.55],[3.2,6.54],[5.6,6.55],[7.0,6.56],
  [-0.2,6.40],[0.4,6.40],[1.6,6.41],[3.2,6.40],[4.4,6.39],[6.8,6.40],
  [-0.8,6.20],[0.6,6.20],[2.0,6.21],[2.8,6.20],[4.2,6.19],[5.6,6.20],
  [1.0,6.05],[1.6,6.05],[2.6,6.06],[3.6,6.05],[4.6,6.04],
  [2.2,5.85],[3.0,5.85],[3.4,5.86],[4.2,5.84],
  [3.0,5.65],[3.4,5.66],[4.2,5.64],
  [12.4,8.95],[16.0,8.95],[17.2,8.96],[19.2,8.95],[21.0,8.94],
  [10.0,8.74],[15.6,8.74],[18.6,8.75],[21.8,8.74],[23.4,8.73]
];
const scatXTicks = [-10, 2.5, 15, 27.5, 40];
const scatXLabels = ['-10.0', '2.5', '15.0', '27.5', '40.0'];
const rbcDecadesC = [5, 6, 7, 8, 9];

// ---- helpers ----
const DAY0 = Date.UTC(2012, 9, 1);
const dayOf = (y, m, d) => (Date.UTC(y, m - 1, d) - DAY0) / 864e5;
const clamp = (v, lo, hi) => Math.max(lo, Math.min(hi, v));
const fnt = (size, style) => (style ? style + ' ' : '') + size + 'px ' + FAM;

function rich(ctx, parts, x, y, align, color) {
  ctx.save();
  ctx.fillStyle = color || '#000';
  ctx.textAlign = 'left';
  ctx.textBaseline = 'alphabetic';
  let total = 0;
  const ws = parts.map(p => { ctx.font = fnt(p.s, p.st); const w = ctx.measureText(p.t).width; total += w; return w; });
  let cx = align === 'center' ? x - total / 2 : align === 'right' ? x - total : x;
  parts.forEach((p, i) => { ctx.font = fnt(p.s, p.st); ctx.fillText(p.t, cx, y - (p.r || 0)); cx += ws[i]; });
  ctx.restore();
}
const pow10 = (n, size) => [{ t: '10', s: size }, { t: String(n), s: Math.round(size * 0.62), r: size * 0.46 }];
function unitParts(size) {
  const s = Math.round(size * 0.5), r = size * 0.44;
  return [{ t: 'RBC (cm', s: size }, { t: '-2', s, r }, { t: 's', s: size }, { t: '-1', s, r },
          { t: 'sr', s: size }, { t: '-1', s, r }, { t: 'MeV', s: size }, { t: '-1', s, r }, { t: ')', s: size }];
}
const dtParts = (size, rest) => [{ t: '\u0394', s: size }, { t: 't', s: size, st: 'italic' }, { t: rest, s: size }];

function strokeSegs(ctx, segs, color, width) {
  ctx.save();
  ctx.strokeStyle = color; ctx.lineWidth = width; ctx.lineCap = 'butt';
  ctx.beginPath();
  segs.forEach(([x1, y1, x2, y2]) => { ctx.moveTo(x1, y1); ctx.lineTo(x2, y2); });
  ctx.stroke();
  ctx.restore();
}
function frame(ctx, a, w) {
  ctx.save(); ctx.strokeStyle = '#000'; ctx.lineWidth = w;
  ctx.strokeRect(a.left, a.top, a.right - a.left, a.bottom - a.top);
  ctx.restore();
}
function rotText(ctx, x, y, fn) {
  ctx.save(); ctx.translate(x, y); ctx.rotate(-Math.PI / 2); fn(); ctx.restore();
}
const pad = (l, t, r, b) => ({ left: l, top: t, right: W - r, bottom: H - b });
const baseOpts = (padding, scales) => ({
  responsive: false, animation: false, devicePixelRatio: 1, events: [],
  layout: { padding },
  plugins: { legend: { display: false }, tooltip: { enabled: false } },
  scales
});

// ---- (a) decorations ----
const decorA = {
  id: 'decorA',
  afterDraw(chart) {
    const ctx = chart.ctx, a = chart.chartArea;
    const sx = chart.scales.x, sy = chart.scales.y, sr = chart.scales.y2;
    const segs = [];
    const majors = dateTickYears.map(y => dayOf(y, 10, 1));
    const minors = [];
    for (let y = 2013; y <= 2017; y++) minors.push(dayOf(y, 2, 1), dayOf(y, 6, 1));
    majors.concat(minors).forEach(d => {
      const x = sx.getPixelForValue(d);
      segs.push([x, a.bottom, x, a.bottom + 12], [x, a.top, x, a.top - 10]);
    });
    for (let v = -20; v <= 60; v += 5) {
      const y = sy.getPixelForValue(v);
      segs.push([a.left, y, a.left - (v % 20 === 0 ? 17 : 11), y]);
    }
    strokeSegs(ctx, segs, '#000', 3);
    const bs = [];
    rbcDecadesA.forEach(e => {
      for (let m = 1; m <= 9; m++) {
        const v = m * Math.pow(10, e);
        if (v > sr.max * 1.0001) break;
        const y = sr.getPixelForValue(v);
        bs.push([a.right, y, a.right + (m === 1 ? 26 : 13), y]);
      }
    });
    strokeSegs(ctx, bs, BLUE, 3);
    // frame: black left/top/bottom, blue right
    ctx.save();
    ctx.strokeStyle = '#000'; ctx.lineWidth = 4;
    ctx.beginPath(); ctx.moveTo(a.right, a.top); ctx.lineTo(a.left, a.top); ctx.lineTo(a.left, a.bottom); ctx.lineTo(a.right, a.bottom); ctx.stroke();
    ctx.strokeStyle = BLUE; ctx.lineWidth = 3;
    ctx.beginPath(); ctx.moveTo(a.right, a.top); ctx.lineTo(a.right, a.bottom); ctx.stroke();
    ctx.restore();

    // tick labels
    ctx.save();
    ctx.fillStyle = '#000'; ctx.font = fnt(62); ctx.textAlign = 'right'; ctx.textBaseline = 'middle';
    symhTicks.forEach(v => ctx.fillText(String(v), 253, clamp(sy.getPixelForValue(v), a.top + 38, a.bottom - 18)));
    ctx.textAlign = 'center'; ctx.textBaseline = 'alphabetic'; ctx.font = fnt(66);
    dateTickYears.forEach(y => ctx.fillText('01 Oct ' + y, sx.getPixelForValue(dayOf(y, 10, 1)), 699));
    ctx.restore();
    rbcDecadesA.forEach(e => {
      const yc = clamp(sr.getPixelForValue(Math.pow(10, e)) + 8, a.top + 32, a.bottom - 19);
      rich(ctx, pow10(e, 62), 2635, yc + 22, 'left', BLUE);
    });

    // axis titles
    rotText(ctx, 76, 329, () => {
      ctx.fillStyle = '#000'; ctx.font = fnt(66); ctx.textAlign = 'center'; ctx.textBaseline = 'alphabetic';
      ctx.fillText('\u2212SYM-H* (nT)', 0, 24);
    });
    rotText(ctx, 2802, 353, () => rich(ctx, unitParts(60), 0, 22, 'center', BLUE));

    // in-panel labels
    rich(ctx, [{ t: '(a)', s: 70 }], 327, 155, 'left', '#000');
    rich(ctx, [{ t: '2.1 MeV', s: 74 }], 1077, 155, 'left', '#000');
    rich(ctx, dtParts(78, '=14 day'), 1487, 155, 'left', BLUE);
  }
};

// ---- (b) decorations ----
const decorB = {
  id: 'decorB',
  afterDraw(chart) {
    const ctx = chart.ctx, a = chart.chartArea;
    const sx = chart.scales.x, sy = chart.scales.y;
    const segs = [];
    for (let d = 0; d <= 30; d += 2) {
      const x = sx.getPixelForValue(d), len = d % 10 === 0 ? 16 : 9;
      segs.push([x, a.bottom, x, a.bottom + len], [x, a.top, x, a.top - len]);
    }
    for (let i = 0; i <= 60; i++) {
      const y = sy.getPixelForValue(i / 100), len = i % 10 === 0 ? 17 : 8;
      segs.push([a.left, y, a.left - len, y], [a.right, y, a.right + len, y]);
    }
    strokeSegs(ctx, segs, '#000', 3);
    frame(ctx, a, 3);

    ctx.save();
    ctx.fillStyle = '#000'; ctx.font = fnt(62); ctx.textAlign = 'right'; ctx.textBaseline = 'middle';
    corrTicks.forEach(v => ctx.fillText(v.toFixed(1), 264, clamp(sy.getPixelForValue(v), a.top + 36, a.bottom - 19)));
    ctx.textAlign = 'center'; ctx.textBaseline = 'alphabetic';
    lagTicks.forEach(v => ctx.fillText(String(v), sx.getPixelForValue(v), 1751));
    ctx.restore();

    rich(ctx, dtParts(68, ' (day)'), (a.left + a.right) / 2, 1846, 'center', '#000');
    rotText(ctx, 72, (a.top + a.bottom) / 2, () => {
      ctx.fillStyle = '#000'; ctx.font = fnt(68); ctx.textAlign = 'center'; ctx.textBaseline = 'alphabetic';
      ctx.fillText('Linear Correlation', 0, 24);
    });
    rich(ctx, [{ t: '(b)', s: 66 }], 342, 828, 'left', '#000');
  }
};

// ---- (c) decorations ----
const decorC = {
  id: 'decorC',
  afterDraw(chart) {
    const ctx = chart.ctx, a = chart.chartArea;
    const sx = chart.scales.x, sy = chart.scales.y;
    const segs = [];
    for (let k = 0; k <= 12; k++) {
      const x = sx.getPixelForValue(-10 + k * 12.5 / 3), len = k % 3 === 0 ? 16 : 9;
      segs.push([x, a.bottom, x, a.bottom + len], [x, a.top, x, a.top - len]);
    }
    rbcDecadesC.forEach(e => {
      for (let m = 1; m <= 9; m++) {
        const v = m * Math.pow(10, e);
        if (v > sy.max * 1.0001) break;
        const y = sy.getPixelForValue(v), len = m === 1 ? 16 : 8;
        segs.push([a.left, y, a.left - len, y], [a.right, y, a.right + len, y]);
      }
    });
    strokeSegs(ctx, segs, '#000', 3);
    frame(ctx, a, 3);

    ctx.save();
    ctx.fillStyle = '#000'; ctx.font = fnt(62); ctx.textAlign = 'center'; ctx.textBaseline = 'alphabetic';
    scatXTicks.forEach((v, i) => ctx.fillText(scatXLabels[i], sx.getPixelForValue(v), 1751));
    ctx.restore();
    rbcDecadesC.forEach(e => {
      const yc = clamp(sy.getPixelForValue(Math.pow(10, e)) + 11, a.top + 36, a.bottom - 24);
      rich(ctx, pow10(e, 62), 1545, yc + 22, 'right', '#000');
    });

    rich(ctx, [{ t: '\u2212SYM-H* (nT)', s: 68 }], (a.left + a.right) / 2, 1846, 'center', '#000');
    rotText(ctx, 1367, (a.top + a.bottom) / 2, () => rich(ctx, unitParts(64), 0, 23, 'center', '#000'));
    rich(ctx, [{ t: '(c)', s: 66 }], 1638, 828, 'left', '#000');
    rich(ctx, dtParts(68, '=14 day'), 2283, 1443, 'center', '#000');
    rich(ctx, [{ t: 'r=0.48', s: 68 }], 2283, 1530, 'center', '#000');
  }
};

// ---- charts ----
new Chart(document.getElementById('pa'), {
  type: 'line',
  data: {
    datasets: [
      { data: symh.map(([d, v]) => ({ x: d, y: v })), yAxisID: 'y', borderColor: '#000', borderWidth: 4, pointRadius: 0, tension: 0 },
      { data: rbcLog.map(([d, lg]) => ({ x: d, y: Math.pow(10, lg) })), yAxisID: 'y2', borderColor: BLUE, borderWidth: 4, pointRadius: 0, tension: 0 }
    ]
  },
  options: baseOpts(pad(299, 83, 2583, 575), {
    x: { type: 'linear', display: false, min: 0, max: dayOf(2017, 10, 1) },
    y: { type: 'linear', display: false, position: 'left', min: -20, max: 60 },
    y2: { type: 'logarithmic', display: false, position: 'right', min: 1e4, max: 1e10 }
  }),
  plugins: [decorA]
});

new Chart(document.getElementById('pb'), {
  type: 'line',
  data: {
    datasets: [
      { data: lagDays.map((d, i) => ({ x: d, y: linCorr[i] })), borderColor: '#000', borderWidth: 4, pointRadius: 0, cubicInterpolationMode: 'monotone' },
      { data: [{ x: bestLag, y: 0 }, { x: bestLag, y: 0.6 }], borderColor: '#000', borderWidth: 3.5, borderDash: [3.5, 8], pointRadius: 0 }
    ]
  },
  options: baseOpts(pad(308, 735, 1277, 1619), {
    x: { type: 'linear', display: false, min: 0, max: 30 },
    y: { type: 'linear', display: false, min: 0, max: 0.6 }
  }),
  plugins: [decorB]
});

new Chart(document.getElementById('pc'), {
  type: 'scatter',
  data: {
    datasets: [{
      data: scatterPts.map(([x, lg]) => ({ x, y: Math.pow(10, lg) })),
      pointRadius: 4.5, pointBackgroundColor: '#000', pointBorderWidth: 0, showLine: false
    }]
  },
  options: baseOpts(pad(1605, 735, 2575, 1619), {
    x: { type: 'linear', display: false, min: -10, max: 40 },
    y: { type: 'logarithmic', display: false, min: 1e5, max: 5e9 }
  }),
  plugins: [decorC]
});
</script>
</body>
</html>
